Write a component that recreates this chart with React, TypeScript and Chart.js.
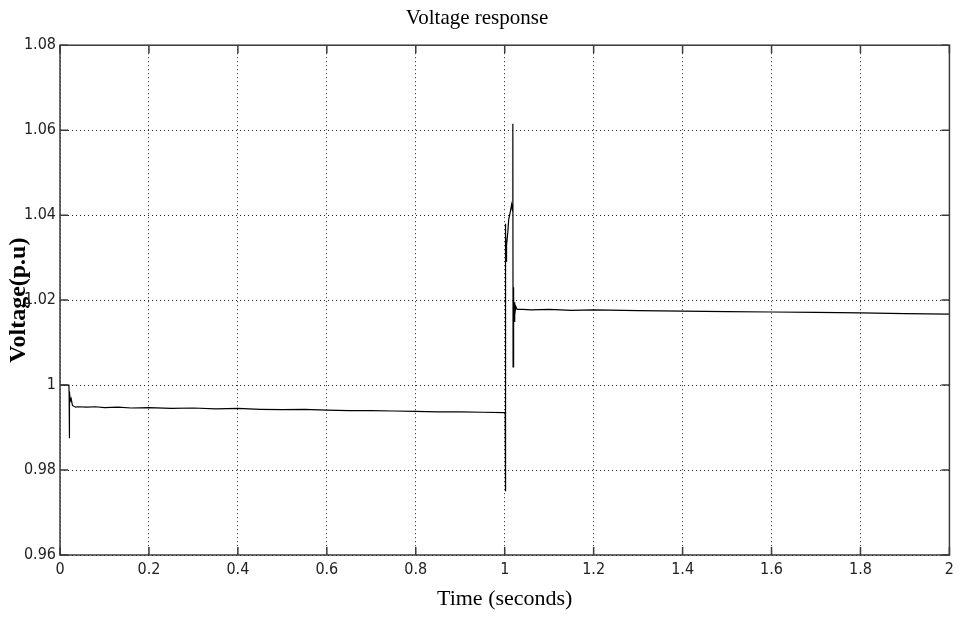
import React, { useEffect, useRef } from "react";
import { Chart, registerables } from "chart.js";
Chart.register(...registerables);

const chartTitle = "Voltage response";
const xTitle = "Time (seconds)";
const yTitle = "Voltage(p.u)";

const xTicks = [0, 0.2, 0.4, 0.6, 0.8, 1, 1.2, 1.4, 1.6, 1.8, 2];
const yTicks = [0.96, 0.98, 1, 1.02, 1.04, 1.06, 1.08];

const times = [
  0, 0.02, 0.0205, 0.021, 0.0215, 0.023, 0.025, 0.028, 0.035,
  0.04, 0.06, 0.08, 0.1, 0.13, 0.16, 0.2, 0.25, 0.3, 0.35, 0.4, 0.45, 0.5,
  0.55, 0.6, 0.65, 0.7, 0.75, 0.8, 0.85, 0.9, 0.95, 0.999,
  1.0012, 1.0014, 1.0018, 1.0025, 1.003, 1.0035, 1.004, 1.005, 1.007, 1.009,
  1.011, 1.013, 1.0155, 1.0175, 1.0183, 1.0188, 1.0195, 1.02, 1.0205, 1.021,
  1.022, 1.023, 1.025, 1.028, 1.04, 1.06, 1.1, 1.15, 1.2, 1.3, 1.4, 1.5,
  1.6, 1.7, 1.8, 1.9, 2.0,
];
const volts = [
  1.0, 1.0, 0.998, 0.9875, 0.9985, 0.9962, 0.9968, 0.9952, 0.9948,
  0.9949, 0.9948, 0.9949, 0.9947, 0.9948, 0.9946, 0.9947, 0.9945, 0.9946,
  0.9944, 0.9945, 0.9943, 0.9942, 0.9943, 0.9941, 0.994, 0.994, 0.9939,
  0.9938, 0.9937, 0.9937, 0.9936, 0.9935,
  0.9935, 0.975, 1.038, 1.036, 1.03, 1.034, 1.029, 1.033, 1.036, 1.039,
  1.04, 1.041, 1.0425, 1.041, 1.0615, 1.0043, 1.023, 1.012, 1.021, 1.015,
  1.0195, 1.0165, 1.0185, 1.0178, 1.0178, 1.0177, 1.0178, 1.0176, 1.0177,
  1.0175, 1.0174, 1.0173, 1.0172, 1.0171, 1.017, 1.0168, 1.0167,
];

const tickFont = "'Liberation Sans Narrow', 'DejaVu Sans Condensed', Arial, sans-serif";
const serif = "'Liberation Serif', 'Times New Roman', serif";

const framePlugin = {
  id: "frame",
  afterDraw(chart: any) {
    const { ctx, chartArea } = chart;
    const { left, top, right, bottom } = chartArea;
    const xs = chart.scales.x;
    const ys = chart.scales.y;
    ctx.save();
    ctx.strokeStyle = "#3a3a3a";
    ctx.lineWidth = 1.5;
    ctx.strokeRect(left, top, right - left, bottom - top);
    ctx.beginPath();
    const tl = 8;
    for (const v of xTicks) {
      const px = xs.getPixelForValue(v);
      ctx.moveTo(px, bottom);
      ctx.lineTo(px, bottom - tl);
      ctx.moveTo(px, top);
      ctx.lineTo(px, top + tl);
    }
    for (const v of yTicks) {
      const py = ys.getPixelForValue(v);
      ctx.moveTo(left, py);
      ctx.lineTo(left + tl, py);
      ctx.moveTo(right, py);
      ctx.lineTo(right - tl, py);
    }
    ctx.stroke();
    ctx.restore();
  },
};

export default function App() {
  const ref = useRef<HTMLCanvasElement>(null);
  useEffect(() => {
    if (!ref.current) return;
    const data = times.map((t, i) => ({ x: t, y: volts[i] }));
    const chart = new Chart(ref.current, {
      type: "line",
      data: {
        datasets: [
          {
            data,
            borderColor: "#000",
            borderWidth: 1.2,
            pointRadius: 0,
            tension: 0,
            fill: false,
          },
        ],
      },
      options: {
        animation: false,
        responsive: false,
        devicePixelRatio: 1,
        layout: { padding: { left: 0, right: 5, top: 0, bottom: 0 } },
        plugins: {
          legend: { display: false },
          tooltip: { enabled: false },
          title: {
            display: true,
            text: chartTitle,
            color: "#000",
            font: { family: serif, size: 21, weight: "normal" },
            padding: { top: 6, bottom: 14 },
          },
        },
        scales: {
          x: {
            type: "linear",
            min: 0,
            max: 2,
            afterBuildTicks: (s: any) => {
              s.ticks = xTicks.map((v) => ({ value: v }));
            },
            afterFit: (s: any) => {
              s.height = 65;
            },
            ticks: {
              color: "#222",
              font: { family: tickFont, size: 16 },
              padding: 5,
              maxRotation: 0,
              autoSkip: false,
              callback: (v: any) => String(+Number(v).toFixed(2)),
            },
            grid: {
              color: "#222",
              lineWidth: 1,
              drawTicks: false,
            },
            border: { display: false, dash: [1, 3] },
            title: {
              display: true,
              text: xTitle,
              color: "#000",
              font: { family: serif, size: 22 },
              padding: { top: 0, bottom: 8 },
            },
          },
          y: {
            type: "linear",
            min: 0.96,
            max: 1.08,
            afterBuildTicks: (s: any) => {
              s.ticks = yTicks.map((v) => ({ value: v }));
            },
            afterFit: (s: any) => {
              s.width = 60;
            },
            ticks: {
              color: "#222",
              font: { family: tickFont, size: 16 },
              padding: 4,
              autoSkip: false,
              callback: (v: any) => String(+Number(v).toFixed(2)),
            },
            grid: {
              color: "#222",
              lineWidth: 1,
              drawTicks: false,
            },
            border: { display: false, dash: [1, 3] },
            title: {
              display: true,
              text: yTitle,
              color: "#000",
              font: { family: serif, size: 24, weight: "bold" },
              padding: { top: 4, bottom: 0 },
            },
          },
        },
      },
      plugins: [framePlugin],
    } as any);
    return () => chart.destroy();
  }, []);
  return (
    <div style={{ position: "fixed", left: 0, top: 0, width: 959, height: 620, background: "#fff" }}>
      <canvas ref={ref} width={959} height={620} style={{ display: "block" }} />
    </div>
  );
}
